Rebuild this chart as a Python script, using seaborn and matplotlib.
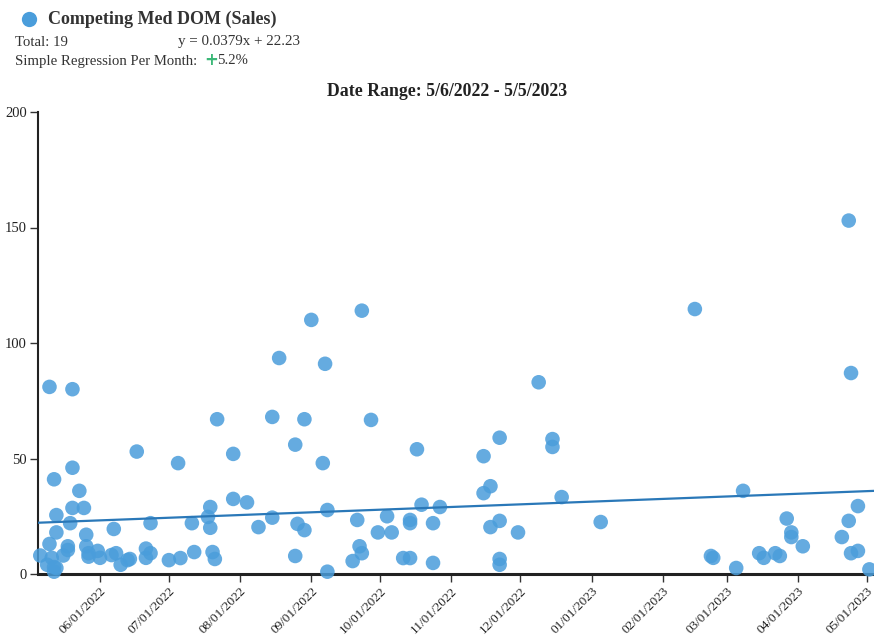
import matplotlib
matplotlib.use("Agg")
import matplotlib.pyplot as plt
import matplotlib.dates as mdates
import seaborn as sns
import pandas as pd
import numpy as np

# ---- data ----
sale_dates = [
    "2022-05-06", "2022-05-10", "2022-05-10", "2022-05-11", "2022-05-09", "2022-05-12",
    "2022-05-12", "2022-05-13", "2022-05-12", "2022-05-13", "2022-05-13", "2022-05-16",
    "2022-05-18", "2022-05-18", "2022-05-19", "2022-05-20", "2022-05-20", "2022-05-20",
    "2022-05-23", "2022-05-25", "2022-05-26", "2022-05-26", "2022-05-27", "2022-05-27",
    "2022-05-31", "2022-06-01", "2022-06-07", "2022-06-06", "2022-06-08", "2022-06-10",
    "2022-06-13", "2022-06-14", "2022-06-17", "2022-06-21", "2022-06-23", "2022-06-23",
    "2022-06-21", "2022-07-01", "2022-07-05", "2022-07-06", "2022-07-11", "2022-07-12",
    "2022-07-19", "2022-07-18", "2022-07-19", "2022-07-20", "2022-07-21", "2022-07-22",
    "2022-07-29", "2022-07-29", "2022-08-04", "2022-08-09", "2022-08-15", "2022-08-15",
    "2022-08-18", "2022-08-25", "2022-08-26", "2022-08-25", "2022-08-29", "2022-08-29",
    "2022-09-01", "2022-09-06", "2022-09-07", "2022-09-08", "2022-09-08", "2022-09-19",
    "2022-09-21", "2022-09-22", "2022-09-23", "2022-09-23", "2022-09-27", "2022-09-30",
    "2022-10-04", "2022-10-06", "2022-10-11", "2022-10-14", "2022-10-14", "2022-10-14",
    "2022-10-17", "2022-10-19", "2022-10-24", "2022-10-24", "2022-10-27", "2022-11-15",
    "2022-11-15", "2022-11-18", "2022-11-18", "2022-11-22", "2022-11-22", "2022-11-22",
    "2022-11-22", "2022-11-30", "2022-12-09", "2022-12-15", "2022-12-15", "2022-12-19",
    "2023-01-05", "2023-02-15", "2023-02-22", "2023-02-23", "2023-03-05", "2023-03-08",
    "2023-03-15", "2023-03-17", "2023-03-22", "2023-03-24", "2023-03-27", "2023-03-29",
    "2023-03-29", "2023-04-03", "2023-04-20", "2023-04-23", "2023-04-23", "2023-04-24",
    "2023-04-24", "2023-04-27", "2023-04-27", "2023-05-02",
]
dom_values = [
    8, 81, 13, 7, 4, 3,
    1, 2.6, 41, 25.5, 18, 8,
    10.4, 12, 22, 28.6, 46, 80,
    36, 28.6, 17, 12, 7.5, 9,
    10, 7, 19.5, 8.2, 9, 4,
    6, 6.5, 53, 11, 9, 22,
    7, 6, 48, 6.9, 22, 9.5,
    29, 24.7, 20, 9.5, 6.5, 67,
    52, 32.5, 31, 20.3, 68, 24.4,
    93.5, 56, 21.7, 7.8, 67, 19,
    110, 48, 91, 27.7, 1, 5.6,
    23.4, 12, 9, 114, 66.7, 18,
    25, 18, 6.9, 6.9, 23.4, 22,
    54, 30, 22, 4.8, 29, 51,
    35, 38, 20.3, 59, 23, 6.5,
    4, 18, 83, 58.4, 55, 33.3,
    22.5, 114.7, 7.8, 7, 2.6, 36,
    9, 7, 9, 7.8, 24, 18,
    16, 12, 16, 153, 23, 87,
    9, 29.4, 10, 2,
]
range_start = "2022-05-06"
range_end = "2023-05-05"
reg_slope = 0.0379
reg_intercept = 22.23
y_ticks = [0, 50, 100, 150, 200]
series_name = "Competing Med DOM (Sales)"
total_text = "Total: 19"
equation_text = "y = 0.0379x + 22.23"
per_month_label = "Simple Regression Per Month:"
per_month_value = "5.2%"

# ---- build frames ----
df = pd.DataFrame({"date": pd.to_datetime(sale_dates), "dom": dom_values})
start = pd.Timestamp(range_start)
end = pd.Timestamp(range_end)
line_x = pd.to_datetime([start - pd.Timedelta(days=1), end - pd.Timedelta(days=1)])
line_days = np.array([(d - start).days for d in line_x])
reg_df = pd.DataFrame({"date": line_x, "fit": reg_slope * line_days + reg_intercept})

# ---- style ----
sns.set_theme(style="white")
plt.rcParams["font.family"] = ["Liberation Serif", "DejaVu Serif"]

W, H = 874, 637
fig = plt.figure(figsize=(W / 100, H / 100), dpi=100)
ax = fig.add_axes([38 / W, 1 - 574 / H, (874 - 38) / W, (574 - 112) / H])

point_color = "#4a9ddb"
line_color = "#2a78b8"

sns.scatterplot(data=df, x="date", y="dom", ax=ax, s=110, color=point_color,
                alpha=0.85, edgecolor="none", clip_on=False, zorder=3)
sns.lineplot(data=reg_df, x="date", y="fit", ax=ax, color=line_color,
             linewidth=1.6, zorder=4)

ax.set_xlim(start - pd.Timedelta(days=1), end - pd.Timedelta(days=1))
ax.set_ylim(0, 200)
ax.set_yticks(y_ticks)
ax.set_xlabel("")
ax.set_ylabel("")

ax.xaxis.set_major_locator(mdates.MonthLocator(bymonthday=1))
ax.xaxis.set_major_formatter(mdates.DateFormatter("%m/%d/%Y"))

ax.tick_params(axis="both", which="major", length=6, width=1, color="#333333",
               labelcolor="#222222", pad=2, direction="out")
ax.tick_params(axis="y", labelsize=10.5, left=True)
ax.tick_params(axis="x", labelsize=9.5, bottom=True)
for lbl in ax.get_xticklabels():
    lbl.set_rotation(45)
    lbl.set_ha("right")
    lbl.set_rotation_mode("anchor")

for side in ["top", "right"]:
    ax.spines[side].set_visible(False)
ax.spines["left"].set_color("#222222")
ax.spines["left"].set_linewidth(1.5)
ax.spines["bottom"].set_color("#222222")
ax.spines["bottom"].set_linewidth(2.2)
ax.grid(False)

# ---- titles / header ----
fig.text(447 / W, 1 - 92 / H,
         f"Date Range: {start.month}/{start.day}/{start.year} - {end.month}/{end.day}/{end.year}",
         ha="center", va="center", fontsize=12.8, fontweight="bold", color="#222222")

fig.add_artist(matplotlib.lines.Line2D([29 / W], [1 - 19 / H], marker="o", markersize=11,
                                       color=point_color, markeredgecolor="none",
                                       transform=fig.transFigure))
fig.text(48 / W, 1 - 19 / H, series_name, ha="left", va="center",
         fontsize=13, fontweight="bold", color="#333333")
fig.text(15 / W, 1 - 42 / H, total_text, ha="left", va="center", fontsize=10.6, color="#333333")
fig.text(178 / W, 1 - 42 / H, equation_text, ha="left", va="center", fontsize=10.8, color="#333333")
fig.text(15 / W, 1 - 61 / H, per_month_label, ha="left", va="center", fontsize=10.6, color="#333333")
fig.text(204 / W, 1 - 60 / H, "+", ha="left", va="center", fontsize=12, fontweight="bold",
         family="DejaVu Sans", color="#3cb878")
fig.text(217 / W, 1 - 61 / H, per_month_value, ha="left", va="center", fontsize=10.6, color="#333333")

fig.savefig("out.png", dpi=100)
